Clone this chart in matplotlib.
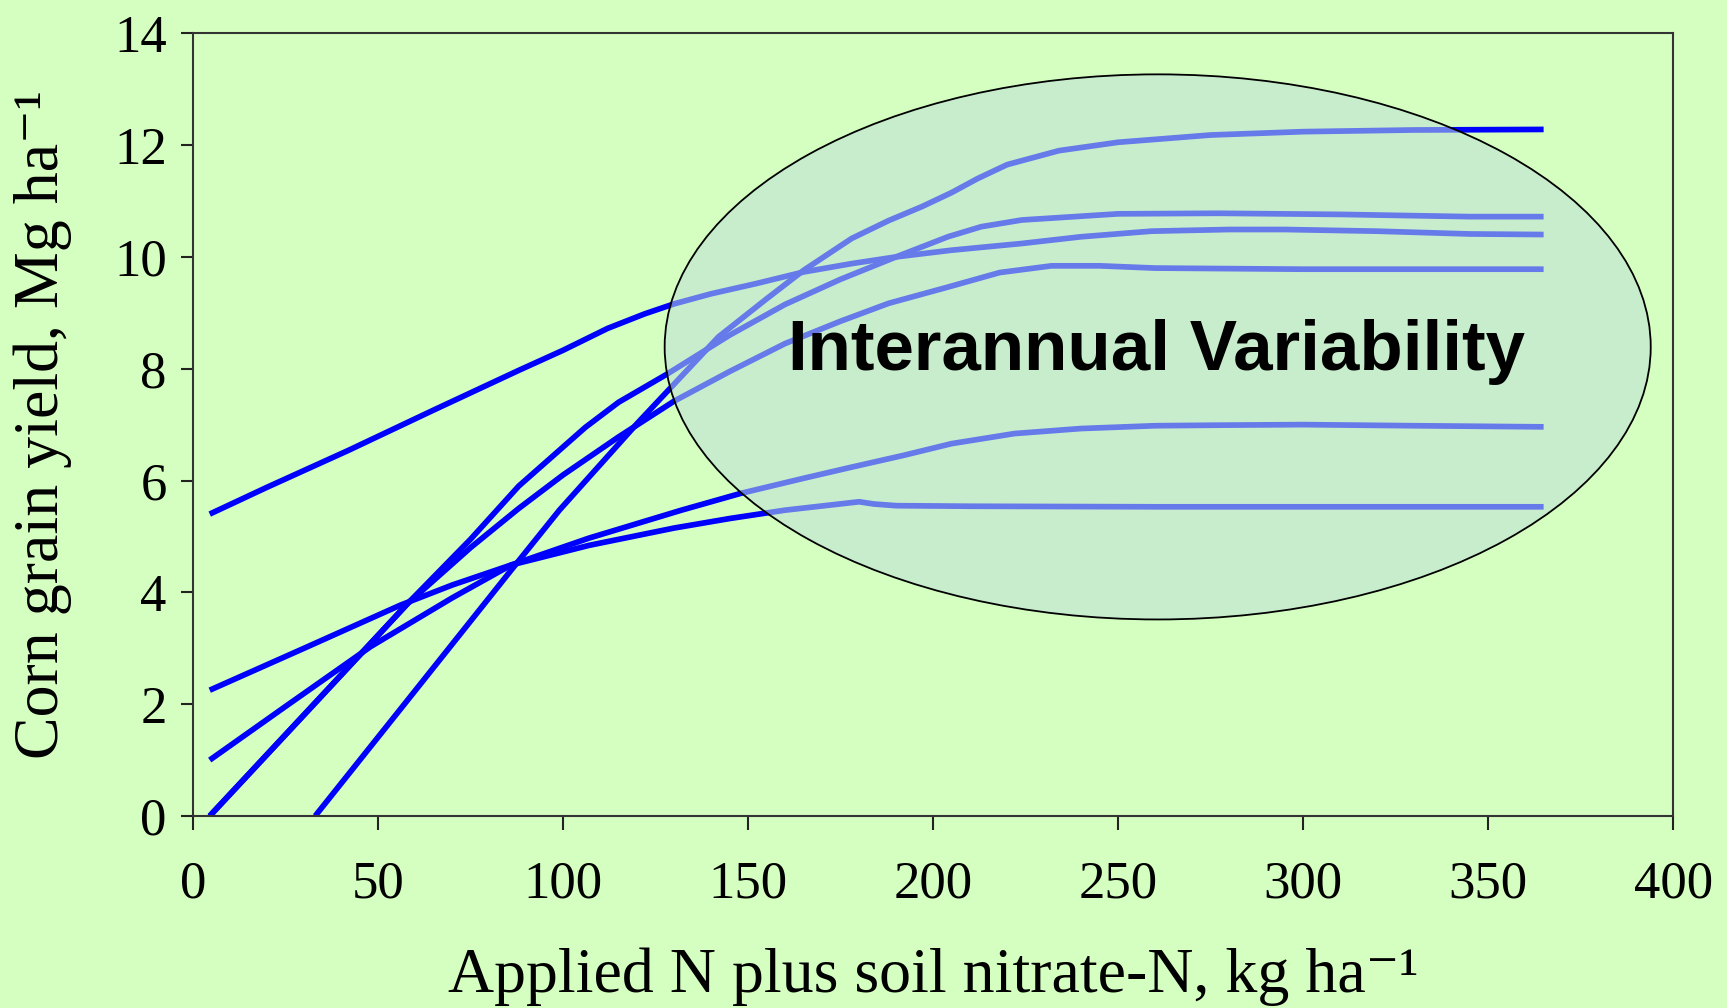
import matplotlib
matplotlib.use("Agg")
import matplotlib.pyplot as plt
from matplotlib.patches import Ellipse

# --- data (N in kg/ha, yield in Mg/ha) ---
n_a = [4.5, 20, 42, 65, 88, 100, 112, 122, 130, 140, 152, 165, 178, 190, 205, 224, 240, 259, 280, 295, 320, 345, 365]
yield_a = [5.40, 5.88, 6.54, 7.26, 7.97, 8.33, 8.72, 8.98, 9.16, 9.34, 9.52, 9.73, 9.88, 10.00, 10.12, 10.24, 10.36, 10.46, 10.49, 10.49, 10.46, 10.41, 10.40]

n_b = [33, 60, 86, 99, 120, 142, 155, 165, 178, 188, 197, 205, 212, 220, 234, 250, 275, 300, 330, 365]
yield_b = [0.0, 2.24, 4.4, 5.47, 7.02, 8.57, 9.25, 9.76, 10.33, 10.65, 10.9, 11.15, 11.4, 11.65, 11.9, 12.05, 12.18, 12.24, 12.27, 12.28]

n_c = [4.5, 30, 58, 75, 88, 100, 106, 115, 128, 145, 160, 175, 190, 204, 213, 224, 250, 277, 310, 345, 365]
yield_c = [0.0, 1.81, 3.8, 4.95, 5.9, 6.6, 6.95, 7.4, 7.9, 8.6, 9.15, 9.6, 10.0, 10.36, 10.54, 10.66, 10.77, 10.78, 10.76, 10.72, 10.72]

n_d = [4.5, 30, 58, 75, 88, 100, 115, 130, 145, 160, 175, 188, 204, 218, 232, 245, 260, 300, 365]
yield_d = [0.0, 1.81, 3.8, 4.8, 5.5, 6.1, 6.78, 7.42, 7.95, 8.45, 8.85, 9.17, 9.46, 9.72, 9.84, 9.84, 9.8, 9.78, 9.78]

n_e = [4.5, 25, 48, 70, 86, 107, 132, 148, 165, 178, 192, 205, 222, 240, 260, 277, 300, 330, 365]
yield_e = [1.0, 1.96, 3.03, 3.9, 4.49, 4.97, 5.47, 5.77, 6.04, 6.24, 6.45, 6.66, 6.84, 6.93, 6.98, 6.99, 7.0, 6.98, 6.96]

n_f = [4.5, 30, 56, 70, 86, 107, 130, 145, 160, 172, 180, 184, 190, 210, 260, 365]
yield_f = [2.25, 3.0, 3.77, 4.13, 4.49, 4.84, 5.15, 5.32, 5.47, 5.56, 5.62, 5.58, 5.55, 5.54, 5.53, 5.53]

x_ticks = [0, 50, 100, 150, 200, 250, 300, 350, 400]
y_ticks = [0, 2, 4, 6, 8, 10, 12, 14]

bg = "#D5FFC1"
serif = ["Liberation Serif", "DejaVu Serif"]

fig = plt.figure(figsize=(17.27, 10.08), dpi=100, facecolor=bg)
ax = fig.add_axes([0.1118, 0.1905, 0.857, 0.7765])
ax.set_facecolor(bg)

curves = [(n_a, yield_a), (n_b, yield_b), (n_c, yield_c),
          (n_d, yield_d), (n_e, yield_e), (n_f, yield_f)]
for xs, ys in curves:
    ax.plot(xs, ys, color="#0000FF", lw=4.1, solid_joinstyle="round",
            solid_capstyle="butt", zorder=2)

# highlight ellipse over the plateau region
ax.add_patch(Ellipse((260.7, 8.39), 266.5, 9.75, facecolor="#BCDFD8", alpha=0.55,
                     edgecolor="none", zorder=3))
ax.add_patch(Ellipse((260.7, 8.39), 266.5, 9.75, facecolor="none",
                     edgecolor="black", lw=1.3, zorder=4))
ax.text(260.5, 8.3, "Interannual Variability", ha="center", va="center",
        fontsize=51, fontweight="bold", family="Liberation Sans", zorder=5)

ax.set_xlim(0, 400)
ax.set_ylim(0, 14)
ax.set_xticks(x_ticks)
ax.set_yticks(y_ticks)
ax.set_xticklabels([str(v) for v in x_ticks], family=serif, fontsize=38)
ax.set_yticklabels([str(v) for v in y_ticks], family=serif, fontsize=38)
ax.tick_params(axis="x", direction="out", length=10, width=1.5, pad=22, colors="#222222")
ax.tick_params(axis="y", direction="out", length=9, width=1.5, pad=10, colors="#222222")
for tl in ax.get_xticklabels() + ax.get_yticklabels():
    tl.set_color("black")
for s in ax.spines.values():
    s.set_linewidth(1.5)
    s.set_color("#333333")

ax.set_xlabel("Applied N plus soil nitrate-N, kg ha\u207b\u00b9", family=serif, fontsize=46)
ax.set_ylabel("Corn grain yield, Mg ha\u207b\u00b9", family=serif, fontsize=46)
ax.xaxis.set_label_coords(0.5, -0.168)
ax.yaxis.set_label_coords(-0.082, 0.5)

fig.savefig("out.png", dpi=100, facecolor=bg)
